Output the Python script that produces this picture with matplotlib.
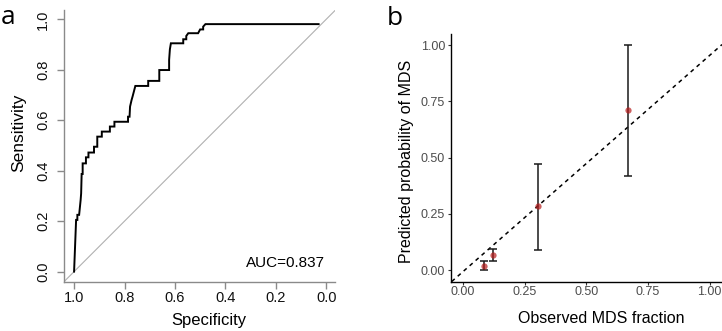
import matplotlib
matplotlib.use("Agg")
import matplotlib.pyplot as plt
import numpy as np

plt.rcParams['font.family'] = ['Liberation Sans', 'DejaVu Sans']

# ---- Panel a: ROC curve (path vertices) ----
roc_spec = [1.000, 0.992, 0.987, 0.987, 0.980, 0.974, 0.972, 0.970, 0.966, 0.966,
            0.953, 0.953, 0.943, 0.943, 0.921, 0.921, 0.908, 0.908, 0.890, 0.890,
            0.858, 0.858, 0.840, 0.840, 0.786, 0.786, 0.780, 0.778, 0.772, 0.768,
            0.757, 0.706, 0.706, 0.662, 0.662, 0.623, 0.623, 0.620, 0.616, 0.567,
            0.567, 0.555, 0.555, 0.547, 0.508, 0.500, 0.488, 0.488, 0.479, 0.030]
roc_sens = [0.000, 0.205, 0.205, 0.225, 0.225, 0.284, 0.310, 0.387, 0.387, 0.429,
            0.429, 0.453, 0.453, 0.472, 0.472, 0.495, 0.495, 0.535, 0.535, 0.555,
            0.555, 0.575, 0.575, 0.594, 0.594, 0.614, 0.614, 0.654, 0.680, 0.694,
            0.736, 0.736, 0.756, 0.756, 0.799, 0.799, 0.839, 0.881, 0.905, 0.905,
            0.921, 0.921, 0.934, 0.945, 0.945, 0.960, 0.960, 0.971, 0.981, 0.981]
auc_text = "AUC=0.837"
roc_ticks = [1.0, 0.8, 0.6, 0.4, 0.2, 0.0]
roc_ticklabels = ["1.0", "0.8", "0.6", "0.4", "0.2", "0.0"]

# ---- Panel b: calibration ----
obs_frac = [0.086, 0.120, 0.302, 0.669]
pred_prob = [0.019, 0.068, 0.283, 0.710]
ci_low = [0.000, 0.041, 0.092, 0.419]
ci_high = [0.040, 0.093, 0.472, 1.000]
ref_slope = 0.96
ref_intercept = -0.006
cal_ticks = [0.0, 0.25, 0.5, 0.75, 1.0]
cal_ticklabels = ["0.00", "0.25", "0.50", "0.75", "1.00"]

W, H = 722, 331
fig = plt.figure(figsize=(W / 100, H / 100), dpi=100)

def fx(px):
    return px / W

def fy(py):
    return (H - py) / H

# ---------------- Panel a ----------------
axa = fig.add_axes([fx(64), fy(281.7), fx(335) - fx(64), fy(10) - fy(281.7)])
axa.set_xlim(1.04, -0.035)
axa.set_ylim(-0.04, 1.037)
axa.axline((1, 0), (0, 1), color='#b0b0b0', lw=0.8, zorder=1)
axa.plot(roc_spec, roc_sens, color='black', lw=1.4, zorder=2, solid_joinstyle='miter')
axa.text(0.161, 0.034, auc_text, ha='center', va='center', fontsize=11)
for s in ['top', 'right']:
    axa.spines[s].set_visible(False)
for s in ['left', 'bottom']:
    axa.spines[s].set_color('#8a8a8a')
    axa.spines[s].set_linewidth(1.0)
axa.set_xticks(roc_ticks)
axa.set_xticklabels(roc_ticklabels)
axa.set_yticks(roc_ticks)
axa.set_yticklabels(roc_ticklabels, rotation=90, va='center')
axa.tick_params(axis='both', colors='#8a8a8a', labelcolor='#111111', length=5, width=1.0,
                labelsize=10.5)
axa.tick_params(axis='x', pad=1.5)
axa.tick_params(axis='y', pad=5)
fig.text(fx(209), fy(320), "Specificity", ha='center', va='center', fontsize=12)
fig.text(fx(18.8), fy(133.3), "Sensitivity", ha='center', va='center', rotation=90, fontsize=12.5)
fig.text(fx(0.5), fy(24), "a", ha='left', va='baseline', fontsize=19, family=['Open Sans', 'DejaVu Sans'])

# ---------------- Panel b ----------------
axb = fig.add_axes([fx(450.7), fy(281.5), 1 - fx(450.7), fy(33.75) - fy(281.5)])
axb.set_xlim(-0.05, 1.05)
axb.set_ylim(-0.05, 1.05)
axb.axline((0, ref_intercept), slope=ref_slope, color='black', lw=1.1,
           linestyle=(0, (2.6, 2.6)), zorder=1)
yerr = [np.array(pred_prob) - np.array(ci_low), np.array(ci_high) - np.array(pred_prob)]
axb.errorbar(obs_frac, pred_prob, yerr=yerr, fmt='none', ecolor='#1a1a1a', elinewidth=1.1,
             capsize=3, capthick=1.1, zorder=2)
axb.plot(obs_frac, pred_prob, 'o', color='#b71c1c', alpha=0.7, ms=4.5, mec='none', zorder=3)
for s in ['top', 'right']:
    axb.spines[s].set_visible(False)
for s in ['left', 'bottom']:
    axb.spines[s].set_color('black')
    axb.spines[s].set_linewidth(1.0)
axb.set_xticks(cal_ticks)
axb.set_xticklabels(cal_ticklabels)
axb.set_yticks(cal_ticks)
axb.set_yticklabels(cal_ticklabels)
axb.tick_params(axis='both', colors='#333333', labelcolor='#4d4d4d', length=2.4, width=0.8,
                labelsize=9)
axb.tick_params(axis='x', pad=0.8)
axb.tick_params(axis='y', pad=1.7)
fig.text(fx(601.7), fy(323.3), "Observed MDS fraction", ha='center', va='baseline', fontsize=11.5)
fig.text(fx(406.5), fy(161.7), "Predicted probability of MDS", ha='center', va='center',
         rotation=90, fontsize=11.5)
fig.text(fx(386.5), fy(25), "b", ha='left', va='baseline', fontsize=19, family=['Open Sans', 'DejaVu Sans'])

fig.savefig("out.png", dpi=100)
